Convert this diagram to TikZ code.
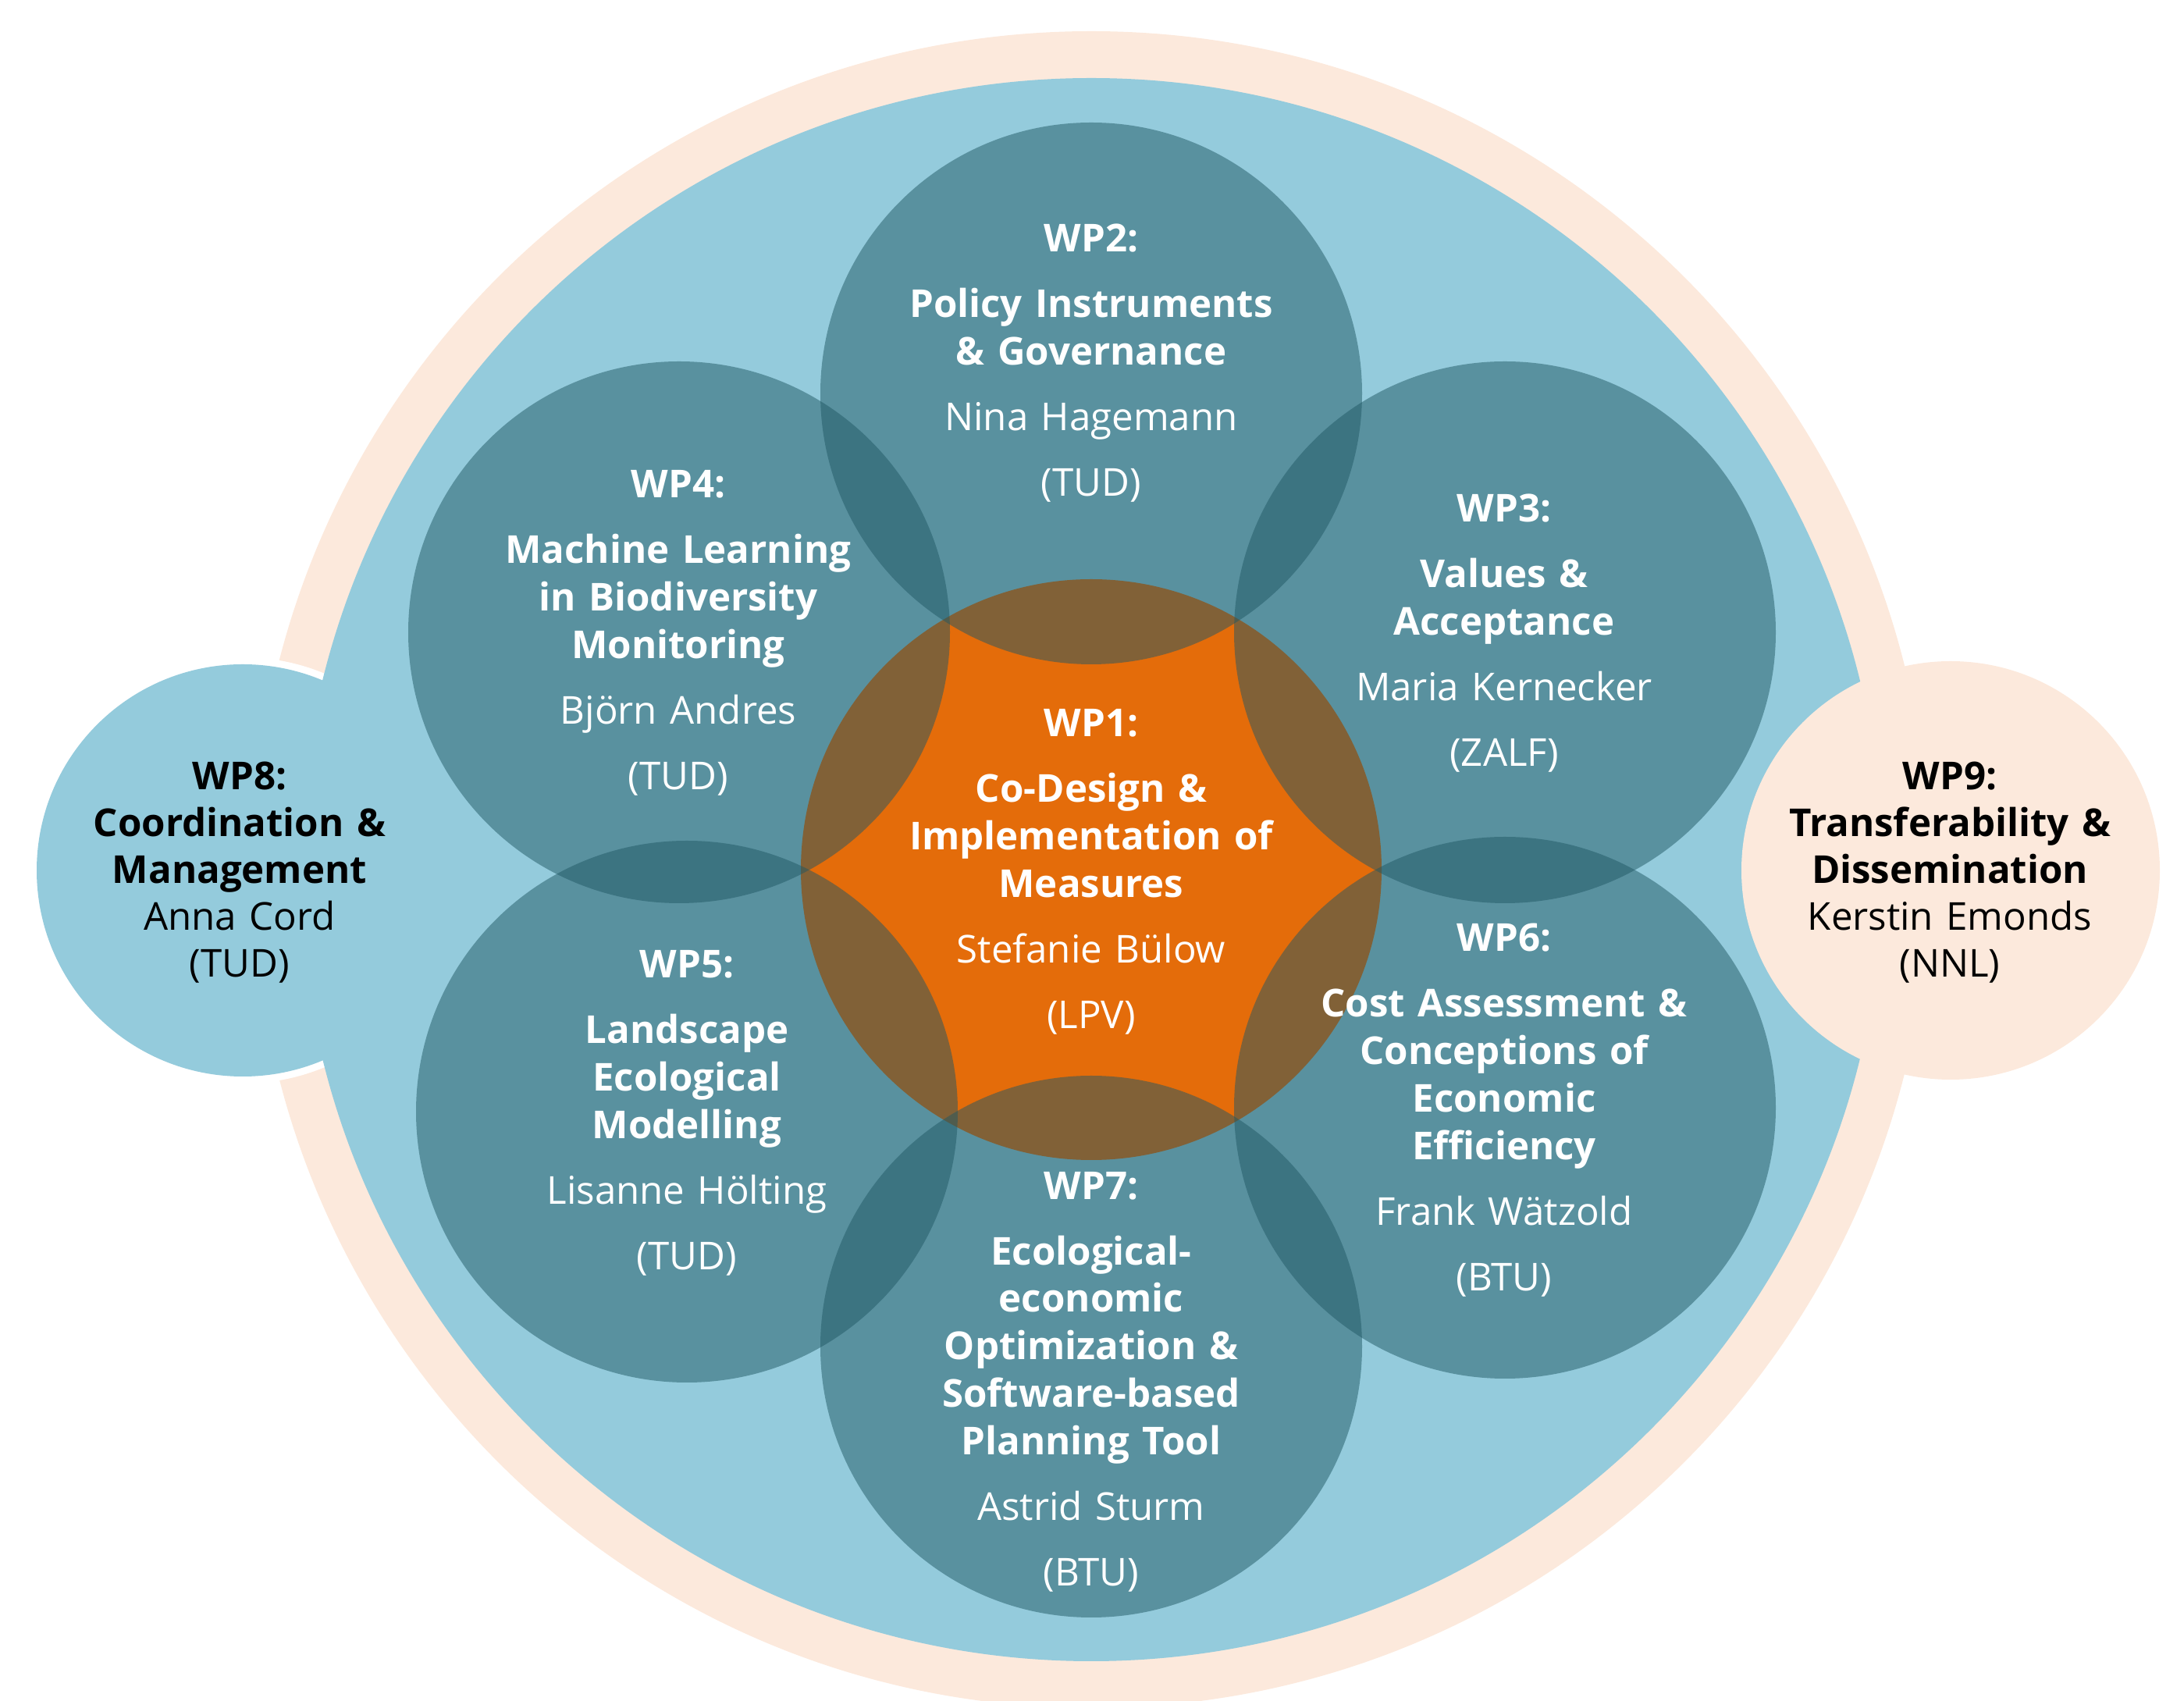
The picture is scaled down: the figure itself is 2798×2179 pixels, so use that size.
\documentclass[tikz,border=0pt]{standalone}
\usepackage{fontspec}
\setmainfont{Open Sans}

\definecolor{peach}{HTML}{FCE9DC}
\definecolor{skyblue}{HTML}{94CBDC}
\definecolor{petrol}{RGB}{32,88,100}
\definecolor{wporange}{HTML}{E46C0A}

\tikzset{every picture/.style={line width=0.75pt}}
\tikzset{
  wptext/.style={align=center, text width=150pt, inner sep=0pt, text=white,
    font=\fontsize{12.3}{15.2}\selectfont},
  sidetext/.style={wptext, text=black, font=\fontsize{12.3}{15}\selectfont},
  petroldisc/.style={fill=petrol, fill opacity=0.5},
}
% title, bold lines, name, institute
\newcommand{\wplabel}[4]{\bfseries #1\\[5.8pt]#2\\[5.8pt]\mdseries #3\\[5.8pt]#4}
\newcommand{\sidelabel}[4]{\bfseries #1\\#2\\\mdseries #3\\#4}

\begin{document}
\begin{tikzpicture}[x=0.25pt,y=0.25pt,yscale=-1,xscale=1]
\useasboundingbox (0,0) rectangle (2798,2179);
\clip (0,0) rectangle (2798,2179);

%Shape: Circle [outer ring]
\fill [peach] (1398,1114) circle (1074);
%Shape: Circle [WP8, white rim]
\fill [white] (311,1115) circle (273);
\fill [skyblue] (311,1115) circle (264);
%Shape: Circle [main]
\fill [skyblue] (1398,1114) circle (1014);
%Shape: Circle [WP9]
\fill [peach] (2499,1115) circle (268);

%Shape: Circle [WP1]
\fill [wporange] (1398,1114) circle (372);
%Shape: Circle [WP2 .. WP7]
\fill [petroldisc] (1398,504) circle (347);
\fill [petroldisc] (1928,810) circle (347);
\fill [petroldisc] (870,810) circle (347);
\fill [petroldisc] (880,1424) circle (347);
\fill [petroldisc] (1928,1419) circle (347);
\fill [petroldisc] (1398,1725) circle (347);

% Text Node
\node [wptext] (tWP1) at (1398,1117) {\wplabel{WP1:}{Co-Design \&\\Implementation of\\Measures}{Stefanie Bülow}{(LPV)}};
% Text Node
\node [wptext] (tWP2) at (1398,465) {\wplabel{WP2:}{Policy Instruments\\\& Governance}{Nina Hagemann}{(TUD)}};
% Text Node
\node [wptext] (tWP3) at (1927,811) {\wplabel{WP3:}{Values \&\\Acceptance}{Maria Kernecker}{(ZALF)}};
% Text Node
\node [wptext] (tWP4) at (869,811) {\wplabel{WP4:}{Machine Learning\\in Biodiversity\\Monitoring}{Björn Andres}{(TUD)}};
% Text Node
\node [wptext] (tWP5) at (880,1426) {\wplabel{WP5:}{Landscape\\Ecological\\Modelling}{Lisanne Hölting}{(TUD)}};
% Text Node
\node [wptext] (tWP6) at (1927,1422) {\wplabel{WP6:}{Cost Assessment \&\\Conceptions of\\Economic\\Efficiency}{Frank Wätzold}{(BTU)}};
% Text Node
\node [wptext] (tWP7) at (1398,1770) {\wplabel{WP7:}{Ecological-\\economic\\Optimization \&\\Software-based\\Planning Tool}{Astrid Sturm}{(BTU)}};
% Text Node
\node [sidetext] (tWP8) at (307,1118) {\sidelabel{WP8:}{Coordination \&\\Management}{Anna Cord}{(TUD)}};
% Text Node
\node [sidetext] (tWP9) at (2498,1118) {\sidelabel{WP9:}{Transferability \&\\Dissemination}{Kerstin Emonds}{(NNL)}};

\end{tikzpicture}
\end{document}
